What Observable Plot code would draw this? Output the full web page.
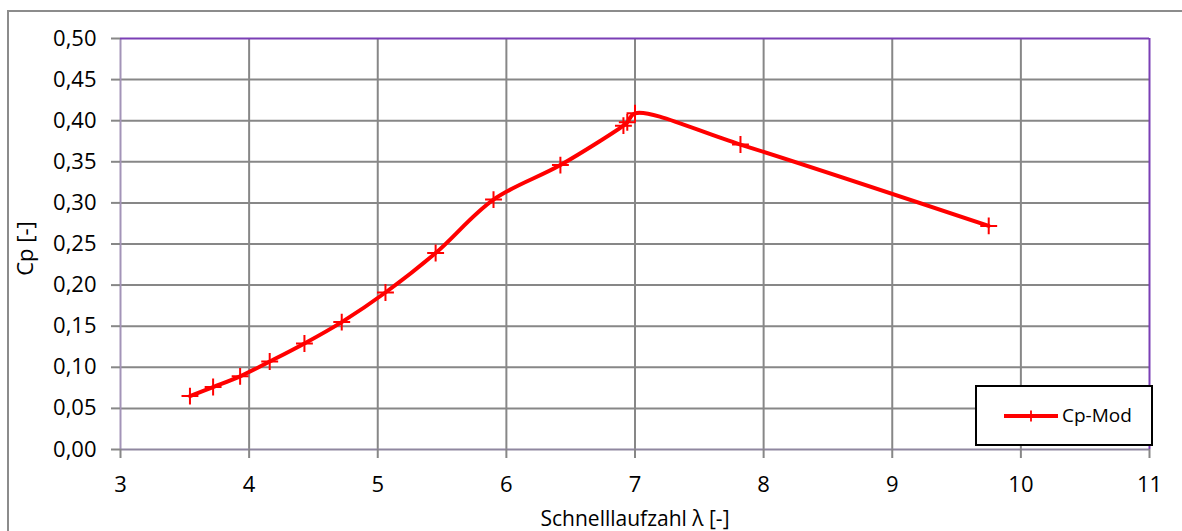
<!DOCTYPE html>
<html>
<head>
<meta charset="utf-8">
<script src="https://cdn.jsdelivr.net/npm/d3@7"></script>
<script src="https://cdn.jsdelivr.net/npm/@observablehq/plot@0.6"></script>
<style>
  html, body { margin: 0; padding: 0; background: #fff; overflow: hidden; }
  #wrap { position: relative; width: 1182px; height: 531px; overflow: hidden; font-family: "Open Sans", sans-serif; }
  #frame { position: absolute; left: 7px; top: 10px; width: 1200px; height: 600px; border: 2px solid #8c8c8c; box-sizing: border-box; pointer-events: none; }
  #chart { position: absolute; left: 0; top: 0; }
  #legend { position: absolute; left: 975px; top: 385px; width: 178px; height: 61px; box-sizing: border-box;
            border: 2px solid #000; background: #fff; }
  #legend svg { position: absolute; left: 26px; top: 22px; }
  #legend span { position: absolute; left: 85px; top: 16px; font-size: 19px; line-height: 24px; color: #000; white-space: nowrap; }
</style>
</head>
<body>
<div id="wrap">
  <div id="frame"></div>
  <div id="chart"></div>
  <div id="legend">
    <svg width="56" height="14"><line x1="1" y1="7" x2="55" y2="7" stroke="#ff0000" stroke-width="4"/><line x1="28" y1="1.5" x2="28" y2="12.5" stroke="#ff0000" stroke-width="1.8"/></svg>
    <span>Cp-Mod</span>
  </div>
</div>
<script>
// Tip speed ratio (Schnelllaufzahl) and power coefficient Cp
const lambda = [3.54, 3.72, 3.93, 4.16, 4.43, 4.72, 5.06, 5.45, 5.90, 6.42, 6.91, 6.94, 7.00, 7.82, 9.75];
const cp     = [0.065, 0.076, 0.089, 0.107, 0.129, 0.155, 0.191, 0.239, 0.304, 0.346, 0.394, 0.398, 0.409, 0.371, 0.272];

const xTicks = [3, 4, 5, 6, 7, 8, 9, 10, 11];
const yTicks = [0, 0.05, 0.10, 0.15, 0.20, 0.25, 0.30, 0.35, 0.40, 0.45, 0.50];

const data = lambda.map((l, i) => ({lambda: l, cp: cp[i]}));
const fmtY = d => d3.format(".2f")(d).replace(".", ",");
const gridColor = "#878787";

const chart = Plot.plot({
  width: 1182,
  height: 531,
  marginLeft: 120,
  marginRight: 33,
  marginTop: 38,
  marginBottom: 82,
  style: {fontFamily: "Open Sans, sans-serif", fontSize: "22px", color: "#000", background: "transparent"},
  x: {domain: [3, 11]},
  y: {domain: [0, 0.5]},
  marks: [
    Plot.gridX(xTicks.slice(1, -1), {stroke: gridColor, strokeOpacity: 1, strokeWidth: 2}),
    Plot.gridY(yTicks.slice(1, -1), {stroke: gridColor, strokeOpacity: 1, strokeWidth: 2}),
    Plot.ruleX([xTicks[0]], {stroke: "#a394b8", strokeWidth: 2}),
    Plot.ruleY([yTicks[0]], {stroke: "#8f87a0", strokeWidth: 2}),
    Plot.ruleY([yTicks[yTicks.length - 1]], {stroke: "#7b3fb5", strokeWidth: 2}),
    Plot.ruleX([xTicks[xTicks.length - 1]], {stroke: "#7b3fb5", strokeWidth: 2}),
    Plot.axisX({ticks: xTicks, tickSize: 9, tickPadding: 18, stroke: gridColor, strokeWidth: 2, label: null, fill: "#000", fontSize: 22}),
    Plot.axisY({ticks: yTicks, tickFormat: fmtY, tickSize: 9, tickPadding: 15, stroke: gridColor, strokeWidth: 2, label: null, fill: "#000", fontSize: 22}),
    Plot.line(data, {x: "lambda", y: "cp", stroke: "#ff0000", strokeWidth: 4, curve: "catmull-rom"}),
    Plot.dot(data, {x: "lambda", y: "cp", symbol: "plus", r: 5.5, stroke: "#ff0000", strokeWidth: 2}),
    Plot.text(["Cp [-]"], {frameAnchor: "left", textAnchor: "middle", lineAnchor: "middle", dx: -95, dy: 4.5, rotate: -90, text: d => d, fontSize: 22, fill: "#000"}),
    Plot.text(["Schnelllaufzahl λ [-]"], {frameAnchor: "bottom", textAnchor: "middle", lineAnchor: "middle", dy: 70, text: d => d, fontSize: 21, fill: "#000"})
  ]
});
document.getElementById("chart").appendChild(chart);
</script>
</body>
</html>
